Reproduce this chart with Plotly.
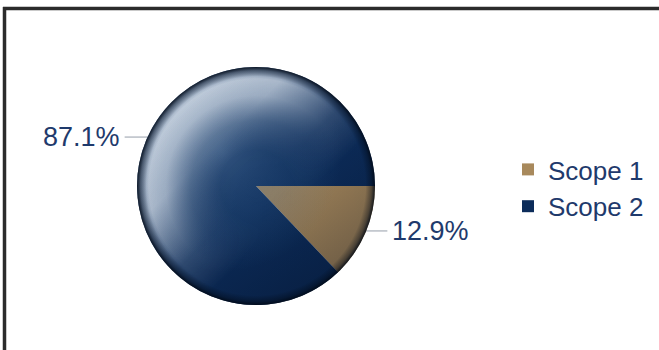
import base64
import math
import plotly.graph_objects as go

# Emissions share by scope
labels = ["Scope 1", "Scope 2"]
values = [12.9, 87.1]
colors = ["#a8895c", "#0c2c5a"]

W, H = 659, 350
# pie placement in pixels
cx, cy, r = 256, 186, 119
text_color = "#1f3a6c"
label_font = dict(family="Liberation Sans, Arial", size=27, color=text_color)

dom_x = [(cx - r) / W, (cx + r) / W]
dom_y = [(H - cy - r) / H, (H - cy + r) / H]

fig = go.Figure(go.Pie(
    labels=labels,
    values=values,
    sort=False,
    direction="clockwise",
    rotation=90,
    marker=dict(colors=colors, line=dict(width=0)),
    textinfo="none",
    domain=dict(x=dom_x, y=dom_y),
    hoverinfo="label+percent",
))

# percentage labels with short horizontal leader lines at each slice's mid-angle
total = sum(values)
start = 0.0
for lab, v in zip(labels, values):
    frac = v / total
    mid = (start + frac / 2) * 2 * math.pi  # clockwise from 3 o'clock
    start += frac
    ex = cx + r * math.cos(mid)
    ey = cy + r * math.sin(mid) - 2
    side = 1 if math.cos(mid) >= 0 else -1
    x0 = ex - side * 4
    x1 = ex + side * 22
    fig.add_shape(type="line", xref="paper", yref="paper",
                  x0=x0 / W, x1=x1 / W, y0=(H - ey) / H, y1=(H - ey) / H,
                  line=dict(color="#b9bec6", width=1.5), layer="below")
    fig.add_annotation(xref="paper", yref="paper",
                       x=(x1 + side * 3) / W, y=(H - ey) / H,
                       xanchor="left" if side > 0 else "right", yanchor="middle",
                       text=f"{frac * 100:.1f}%", showarrow=False, font=label_font)

# glossy sphere shading laid over the pie
svg = """<svg xmlns='http://www.w3.org/2000/svg' width='200' height='200' viewBox='0 0 200 200'>
<defs>
<radialGradient id='glow' cx='0.36' cy='0.36' r='0.5'>
<stop offset='0' stop-color='#5f86b0' stop-opacity='0.4'/>
<stop offset='0.6' stop-color='#3d6896' stop-opacity='0.2'/>
<stop offset='1' stop-color='#3d6896' stop-opacity='0'/>
</radialGradient>
<radialGradient id='ring' cx='0.5' cy='0.5' r='0.5'>
<stop offset='0' stop-color='#dde6f0' stop-opacity='0'/>
<stop offset='0.3' stop-color='#dde6f0' stop-opacity='0.03'/>
<stop offset='0.55' stop-color='#dde6f0' stop-opacity='0.35'/>
<stop offset='0.76' stop-color='#dde6f0' stop-opacity='0.78'/>
<stop offset='0.9' stop-color='#dde6f0' stop-opacity='0.88'/>
<stop offset='1' stop-color='#dde6f0' stop-opacity='0.4'/>
</radialGradient>
<linearGradient id='fade' x1='0.15' y1='0.15' x2='0.75' y2='0.75'>
<stop offset='0' stop-color='#ffffff'/>
<stop offset='0.3' stop-color='#dddddd'/>
<stop offset='0.6' stop-color='#333333'/>
<stop offset='0.8' stop-color='#000000'/>
</linearGradient>
<mask id='m'>
<rect x='0' y='0' width='200' height='200' fill='url(#fade)'/>
</mask>
<radialGradient id='rim' cx='0.5' cy='0.5' r='0.5'>
<stop offset='0' stop-color='#000814' stop-opacity='0'/>
<stop offset='0.92' stop-color='#000814' stop-opacity='0.02'/>
<stop offset='0.97' stop-color='#000814' stop-opacity='0.4'/>
<stop offset='1' stop-color='#000814' stop-opacity='0.85'/>
</radialGradient>
<linearGradient id='shade' x1='0.2' y1='0.1' x2='0.8' y2='0.95'>
<stop offset='0' stop-color='#000a1c' stop-opacity='0'/>
<stop offset='0.55' stop-color='#000a1c' stop-opacity='0.05'/>
<stop offset='1' stop-color='#000a1c' stop-opacity='0.35'/>
</linearGradient>
</defs>
<circle cx='100' cy='100' r='100' fill='url(#shade)'/>
<circle cx='100' cy='100' r='100' fill='url(#glow)'/>
<circle cx='100' cy='100' r='100' fill='url(#ring)' mask='url(#m)'/>
<circle cx='100' cy='100' r='100' fill='url(#rim)'/>
</svg>"""
src = "data:image/svg+xml;base64," + base64.b64encode(svg.encode()).decode()

fig.add_layout_image(dict(
    source=src, xref="paper", yref="paper",
    x=dom_x[0], y=dom_y[1], sizex=dom_x[1] - dom_x[0], sizey=dom_y[1] - dom_y[0],
    xanchor="left", yanchor="top", sizing="stretch", layer="above",
))

# frame along the top and left edges
fig.add_shape(type="line", xref="paper", yref="paper",
              x0=3 / W, x1=1, y0=(H - 8.5) / H, y1=(H - 8.5) / H,
              line=dict(color="#2b2b2b", width=3.5))
fig.add_shape(type="line", xref="paper", yref="paper",
              x0=4.5 / W, x1=4.5 / W, y0=0, y1=(H - 7) / H,
              line=dict(color="#2b2b2b", width=3.5))

fig.update_layout(
    width=W, height=H,
    margin=dict(l=0, r=0, t=0, b=0),
    paper_bgcolor="white",
    plot_bgcolor="white",
    font=dict(family="Liberation Sans, Arial", color=text_color),
    legend=dict(
        x=508 / W, xanchor="left",
        y=(H - 188) / H, yanchor="middle",
        font=dict(size=26, color=text_color),
        bgcolor="rgba(0,0,0,0)",
    ),
    showlegend=True,
)

fig.write_html("out.html")
